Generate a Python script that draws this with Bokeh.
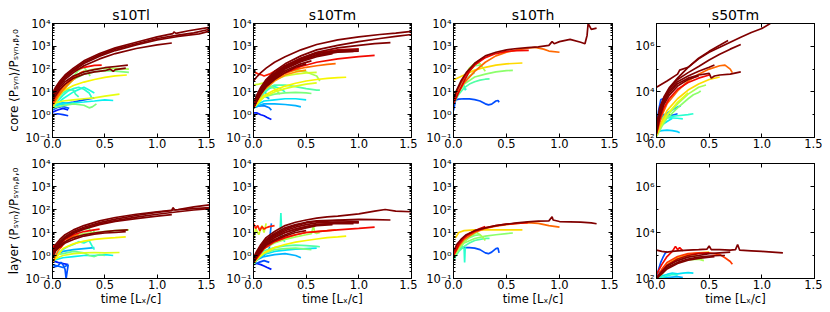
import numpy as np
from bokeh.plotting import figure
from bokeh.layouts import gridplot
from bokeh.models import (Range1d, FixedTicker, LinearAxis, LogAxis,
                          CustomJSTickFormatter, PrintfTickFormatter, ColumnDataSource)
from bokeh.embed import file_html
from bokeh.resources import INLINE

# ---------------- data ----------------
panel_titles = ["s10Tl", "s10Tm", "s10Th", "s50Tm"]
row_labels = ["core ⟨Pₛᵧₙ⟩/Pₛᵧₙ,ᵦ,₀", "layer ⟨Pₛᵧₙ⟩/Pₛᵧₙ,ᵦ,₀"]
x_label = "time [Lₓ/c]"
x_ticks = [0.0, 0.5, 1.0, 1.5]
y_ticks_s10 = [1e-1, 1e0, 1e1, 1e2, 1e3, 1e4]
y_ticks_s50 = [1e2, 1e4, 1e6]
y_range_s10 = [1e-1, 1e4]
y_range_s50 = [1e2, 1e7]

# each series: (colour-map value, time, <P_syn>/P_syn,b,0)
tl_core = [
    (1.0, [0, .03, .07, .12, .2, .3, .45, .6, .8, 1.0, 1.15, 1.16, 1.18, 1.3, 1.5],
          [9, 16, 30, 55, 110, 230, 480, 850, 1500, 2600, 3600, 4300, 3700, 4800, 6800]),
    (1.0, [0, .03, .07, .12, .2, .3, .45, .6, .8, 1.0, 1.2, 1.35, 1.5],
          [7, 13, 25, 48, 95, 200, 420, 750, 1300, 2200, 3100, 3900, 5600]),
    (1.0, [0, .03, .07, .12, .2, .3, .45, .6, .8, 1.0, 1.2, 1.4, 1.5],
          [6, 11, 22, 42, 85, 175, 370, 650, 1150, 1900, 2700, 3500, 4600]),
    (1.0, [0, .03, .07, .12, .2, .3, .45, .6, .8, 1.0, 1.14],
          [5, 10, 19, 36, 70, 140, 280, 480, 800, 1150, 1400]),
    (1.0, [0, .03, .07, .12, .2, .3, .4, .5, .6, .72],
          [5, 9, 16, 28, 50, 75, 95, 115, 130, 150]),
    (1.0, [0, .03, .07, .12, .2, .3, .4, .5, .55, .58, .6, .7],
          [4, 7, 13, 22, 40, 60, 75, 85, 100, 80, 95, 110]),
    (0.9, [0, .03, .07, .12, .2, .3, .4, .47], [6, 12, 24, 45, 85, 120, 145, 150]),
    (0.85, [0, .05, .1, .2, .3], [3, 8, 18, 45, 80]),
    (0.78, [0, .05, .1, .15, .2, .28], [2.5, 6, 12, 22, 40, 75]),
    (0.75, [0, .05, .1, .2, .25], [3, 7, 14, 35, 55]),
    (0.55, [0, .05, .1, .2, .3, .4, .5, .6, .73], [3, 7, 15, 45, 80, 100, 110, 108, 100]),
    (0.5, [0, .05, .1, .2, .3, .4, .5, .6, .73], [2.5, 6, 12, 35, 60, 75, 85, 82, 72]),
    (0.52, [0, .05, .1, .15, .2, .25, .3, .33, .36], [2, 5, 11, 25, 50, 90, 120, 80, 50]),
    (0.58, [0, .05, .1, .2, .25], [2, 5, 12, 40, 60]),
    (0.65, [0, .05, .1, .2, .3, .4, .5, .6, .71], [2.5, 6, 11, 19, 27, 35, 43, 50, 55]),
    (0.63, [0, .05, .1, .2, .3, .4, .5, .64], [3, 3.5, 4, 4.5, 5, 5.5, 6.5, 8]),
    (0.4, [0, .05, .1, .15, .2, .25, .3, .35, .38], [2, 4, 7, 11, 14, 16, 13, 9, 5]),
    (0.42, [0, .05, .1, .15, .2, .22, .25], [2.5, 5, 9, 13, 12, 8, 6]),
    (0.38, [0, .1, .2, .3, .35, .4], [2, 5, 10, 16, 12, 9]),
    (0.36, [0, .1, .2, .3, .4, .5, .58], [2.5, 3, 3.3, 3.6, 4, 4.5, 4.2]),
    (0.2, [0, .1, .2, .3, .4], [2.5, 3, 3.6, 4.5, 5.5]),
    (0.5, [0, .1, .2, .3, .35, .38, .42], [2, 2.5, 3, 2.6, 2.0, 2.2, 3.0]),
    (0.15, [0, .05, .1, .15], [1.3, 1.6, 1.9, 1.6]),
    (0.18, [0, .05, .1, .15], [1.0, 1.1, 1.0, 0.9]),
    (0.22, [0, .05, .1, .16], [1.6, 2.1, 2.3, 1.9]),
    (0.32, [0, .05, .1, .16], [2, 3, 3.4, 3.0]),
]

tm_core = [
    (1.0, [0, .03, .07, .12, .2, .3, .45, .6, .8, 1.0, 1.2, 1.35, 1.5],
          [30, 45, 70, 110, 200, 350, 700, 1200, 1900, 2600, 3300, 3800, 4500]),
    (1.0, [0, .03, .07, .12, .2, .3, .45, .6, .8, 1.0, 1.2, 1.35, 1.5],
          [3, 7, 16, 35, 80, 170, 380, 700, 1100, 1600, 2200, 2700, 3300]),
    (1.0, [0, .03, .07, .12, .2, .3, .45, .6, .8, 1.0, 1.15, 1.3],
          [3, 6, 14, 30, 65, 140, 300, 550, 850, 1100, 1300, 1450]),
    (1.0, [0, .03, .07, .12, .2, .3, .45, .6, .8, 1.0],
          [2.5, 6, 13, 28, 60, 130, 280, 480, 650, 700]),
    (1.0, [0, .03, .07, .12, .2, .3, .45, .6, .8, 1.0],
          [2.5, 5.5, 12, 25, 55, 120, 250, 420, 580, 620]),
    (1.0, [0, .03, .07, .12, .2, .3, .45, .6, .8, .95],
          [2, 5, 11, 23, 50, 110, 230, 400, 550, 600]),
    (1.0, [0, .03, .07, .12, .2, .3, .45, .6, .75], [2, 4.5, 10, 21, 45, 100, 210, 350, 480]),
    (1.0, [0, .03, .07, .12, .2, .3, .45, .55], [2, 4, 9, 19, 40, 85, 170, 230]),
    (1.0, [0, .03, .07, .12, .2, .3, .4, .5], [2, 4, 8, 17, 35, 70, 120, 170]),
    (0.95, [0, .03, .07, .12, .2, .3, .45, .6, .8, 1.0],
           [2.5, 6, 14, 30, 65, 140, 300, 520, 700, 780]),
    (0.9, [0, .03, .07, .12, .2, .3, .45, .6, .8, 1.0, 1.15],
          [2, 4, 9, 18, 38, 70, 130, 200, 280, 350, 400]),
    (0.88, [0, .02, .05, .08, .1, .15, .2, .3, .4], [75, 70, 60, 55, 50, 60, 80, 120, 180]),
    (0.8, [0, .05, .1, .2, .3, .4, .5, .6, .7, .78], [2, 6, 14, 35, 65, 95, 120, 140, 160, 175]),
    (0.75, [0, .05, .1, .2, .3, .4, .5], [2, 5, 12, 30, 55, 75, 90]),
    (0.6, [0, .05, .1, .2, .3, .4, .5, .6], [20, 22, 25, 35, 50, 60, 68, 72]),
    (0.55, [0, .05, .1, .15, .2, .3, .4, .5, .6, .63], [3, 8, 20, 40, 60, 85, 90, 75, 50, 30]),
    (0.65, [0, .05, .1, .2, .3, .4, .5, .6, .7, .8, .88], [2, 4, 7, 12, 18, 24, 30, 35, 39, 42, 44]),
    (0.62, [0, .05, .1, .2, .3, .4, .5, .6], [2, 3.5, 6, 10, 14, 18, 22, 25]),
    (0.45, [0, .05, .1, .15, .2, .3, .4, .5, .6, .63], [2, 5, 10, 16, 20, 20, 17, 14, 12, 12]),
    (0.4, [0, .05, .1, .15, .2, .25, .3], [2, 5, 9, 14, 17, 14, 10]),
    (0.5, [0, .05, .1, .2, .3, .4, .5, .55], [2, 4, 6, 8, 9, 9.5, 9, 8.5]),
    (0.52, [0, .05, .1, .15, .2, .25], [2, 6, 12, 18, 14, 8]),
    (0.35, [0, .05, .1, .2, .3, .4, .5], [2, 3, 4, 4.5, 5, 5, 4.5]),
    (0.3, [0, .05, .1, .2, .3, .4, .45], [2, 2.5, 3, 3, 2.8, 2.5, 2.2]),
    (0.25, [0, .05, .1, .15, .17], [2, 2.4, 2.5, 2.0, 1.6]),
    (0.15, [0, .03, .07, .1, .13, .17], [1.2, 1.2, 1.0, 0.9, 0.75, 0.62]),
    (0.28, [0, .05, .1, .15], [3, 6, 7, 5]),
    (0.32, [0, .05, .1, .15], [4, 8, 10, 7]),
]

th_core = [
    (1.0, [0, .03, .07, .12, .2, .3, .4, .5, .6, .7, .8, .9, .93, .95, 1.0, 1.1, 1.2, 1.24, 1.26,
           1.27, 1.3, 1.35],
          [5, 12, 30, 70, 180, 380, 550, 700, 800, 880, 950, 1100, 1600, 1300, 1600, 2000, 1500,
           1300, 3000, 10000, 5500, 6300]),
    (0.9, [0, .03, .07, .12, .2, .3, .4, .5, .6, .71], [4, 10, 25, 60, 150, 320, 480, 600, 650, 660]),
    (0.92, [0, .05, .1, .15, .2, .25, .3], [3, 10, 30, 80, 160, 250, 330]),
    (0.8, [0, .05, .1, .2, .3, .4, .5, .6, .7, .77, .85, .9, 1.0],
          [4, 10, 25, 80, 200, 380, 550, 700, 820, 900, 750, 620, 550]),
    (0.68, [0, .1, .2, .3, .4, .5, .65], [33, 55, 90, 120, 150, 170, 185]),
    (0.55, [0, .05, .1, .15, .2, .22, .25, .28, .3], [5, 15, 45, 110, 180, 200, 170, 110, 80]),
    (0.5, [0, .05, .1, .15, .2, .25], [4, 12, 35, 80, 140, 150]),
    (0.52, [0, .05, .1, .2, .3, .4, .5, .56], [4, 10, 22, 45, 60, 75, 85, 88]),
    (0.45, [0, .05, .1, .15, .2, .25, .3, .34], [3, 8, 15, 22, 28, 33, 36, 37]),
    (0.48, [0, .05, .1, .15, .2], [3, 10, 25, 50, 70]),
    (0.4, [0, .03, .06, .08, .1, .11, .12], [3, 10, 20, 25, 18, 12, 14]),
    (0.42, [0, .03, .06, .09], [5, 12, 20, 25]),
    (0.2, [0, .02, .05, .1, .15, .2, .25, .3, .33, .36, .4, .42, .43],
          [1.5, 4.5, 4.8, 5, 4.9, 4.6, 4, 3, 2.7, 2.9, 4, 4.2, 3.5]),
]

s50_core = [
    (1.0, [0, .1, .2, .22, .3, .4, .5, .6, .7, .8, .9, 1.0, 1.08],
          [1.6e4, 3e4, 6e4, 9e4, 1.2e5, 2.8e5, 5.5e5, 9e5, 1.5e6, 2.5e6, 4e6, 6e6, 1e7]),
    (1.0, [0, .03, .07, .12, .2, .3, .4, .5, .6, .68],
          [300, 2000, 6000, 1.5e4, 4e4, 1.2e5, 3e5, 6e5, 1.1e6, 1.8e6]),
    (1.0, [0, .03, .07, .12, .2, .3, .4, .5, .6, .7, .8],
          [250, 1500, 5000, 1.3e4, 3.5e4, 7e4, 1.3e5, 2.5e5, 4.5e5, 7.5e5, 1.2e6]),
    (1.0, [0, .03, .07, .12, .2, .3, .4, .5, .55], [200, 1200, 4000, 1.1e4, 2.8e4, 5e4, 8e4, 1.2e5, 1.5e5]),
    (1.0, [0, .03, .07, .12, .2, .3, .4, .5, .52, .55, .6, .7, .8],
          [200, 1000, 3500, 9000, 2.3e4, 4e4, 5.5e4, 6.5e4, 4e4, 5e4, 5.5e4, 6e4, 7.5e4]),
    (1.0, [0, .03, .07, .12, .2, .3, .4], [150, 800, 2800, 7000, 1.8e4, 3.5e4, 5e4]),
    (0.9, [0, .03, .07, .12, .2, .3, .4, .5], [150, 600, 2000, 5000, 1.3e4, 2.6e4, 4e4, 5.5e4]),
    (0.8, [0, .05, .1, .2, .3, .4, .5, .6, .65, .7, .72],
          [150, 900, 3000, 1.1e4, 3e4, 6e4, 1e5, 1.4e5, 1.5e5, 1e5, 7e4]),
    (0.68, [0, .05, .1, .2, .3, .4, .5, .6], [120, 500, 1500, 5000, 1.2e4, 2.2e4, 3.5e4, 4.5e4]),
    (0.62, [0, .05, .1, .2, .3], [150, 400, 1000, 3500, 9000]),
    (0.55, [0, .05, .1, .2, .3, .4, .47], [120, 350, 900, 3000, 8000, 1.6e4, 2e4]),
    (0.52, [0, .05, .1, .2, .3, .35, .4, .42], [110, 300, 700, 2000, 5000, 7500, 9500, 1.1e4]),
    (0.2, [0, .02, .04, .06, .08], [300, 1500, 4500, 5000, 3500]),
    (0.3, [0, .05, .1, .15, .2, .23], [300, 800, 1200, 1600, 2200, 2400]),
    (0.22, [0, .05, .1, .15, .2], [900, 1000, 1000, 950, 1100]),
    (0.4, [0, .05, .1, .2, .3, .35], [500, 700, 800, 900, 1000, 1100]),
    (0.38, [0, .05, .1, .2, .25], [600, 700, 750, 700, 650]),
    (0.33, [0, .05, .1, .15, .2, .22], [180, 200, 210, 200, 180, 160]),
    (0.35, [0, .05, .1, .15], [250, 350, 500, 700]),
]

tl_layer = [
    (1.0, [0, .03, .07, .12, .2, .3, .45, .6, .8, 1.0, 1.2, 1.35, 1.5],
          [1.5, 3, 5, 8, 13, 20, 32, 45, 62, 80, 100, 130, 160]),
    (1.0, [0, .03, .07, .12, .2, .3, .45, .6, .8, 1.0, 1.14, 1.15, 1.17, 1.35, 1.5],
          [1.2, 2.5, 4, 6.5, 11, 17, 27, 38, 55, 75, 90, 120, 95, 110, 120]),
    (1.0, [0, .03, .07, .12, .2, .3, .45, .6, .8, 1.0, 1.2, 1.35, 1.5],
          [1.0, 2, 3.5, 6, 10, 15, 24, 33, 47, 62, 80, 95, 110]),
    (1.0, [0, .03, .07, .12, .2, .3, .45, .6, .8, 1.0, 1.14],
          [1, 2, 3.2, 5.5, 9, 14, 22, 30, 40, 52, 60]),
    (1.0, [0, .03, .07, .12, .2, .3, .4, .5, .6, .72], [1, 1.8, 2.8, 4, 6, 8, 9.5, 11, 12, 13]),
    (1.0, [0, .03, .07, .12, .2, .3, .4, .5, .6, .7], [0.8, 1.6, 2.4, 3.5, 5, 7, 8.5, 9.5, 10, 11]),
    (0.9, [0, .02, .04, .07, .12, .2, .3, .4, .45], [2, 3, 2, 3, 5, 8, 11, 13, 14]),
    (0.88, [0, .02, .05, .08, .1], [3, 2, 2.5, 2.2, 3]),
    (0.55, [0, .05, .1, .2, .3, .4, .5, .6, .73], [1, 2.5, 4.5, 7, 9, 10, 11, 12, 13]),
    (0.5, [0, .05, .1, .2, .3, .35, .38, .4], [1.5, 3, 6, 10, 14, 15, 8, 12]),
    (0.78, [0, .05, .1, .15, .2, .25], [0.5, 1.5, 3, 5, 7, 8]),
    (0.65, [0, .05, .1, .2, .3, .4, .5, .6, .7], [0.5, 1, 2, 3.2, 4.2, 5, 5.6, 6, 6.5]),
    (0.62, [0, .05, .1, .2, .3, .4, .5, .64], [0.6, 0.8, 1.0, 1.2, 1.3, 1.35, 1.3, 1.35]),
    (0.4, [0, .05, .1, .15, .2, .25, .3, .35, .38, .4], [0.8, 1.2, 1.8, 2.5, 3, 4, 3.5, 4.5, 2.5, 1.8]),
    (0.36, [0, .1, .2, .3, .4, .5, .58], [0.6, 0.8, 0.9, 1.0, 1.0, 1.1, 1.0]),
    (0.48, [0, .1, .2, .3, .35, .4, .45, .5], [1, 1.2, 1.5, 1.3, 1.0, 0.9, 1.1, 1.0]),
    (0.2, [0, .05, .08, .1, .12, .13, .15], [0.3, 0.35, 0.5, 0.4, 0.25, 0.1, 0.4]),
    (0.15, [0, .05, .1, .15], [0.6, 0.5, 0.45, 0.4]),
    (0.22, [0, .05, .1, .15], [0.4, 0.35, 0.3, 0.4]),
    (0.3, [0, .05, .1, .2, .3, .4], [1, 1.2, 1.5, 1.8, 2.0, 2.2]),
]

tm_layer = [
    (1.0, [0, .03, .07, .12, .2, .3, .4, .5, .6, .7, .8, 1.0, 1.15, 1.25, 1.35, 1.5],
          [0.8, 1.5, 3, 6, 11, 20, 28, 35, 42, 48, 52, 65, 85, 100, 85, 80]),
    (1.0, [0, .03, .07, .12, .2, .3, .4, .5, .6, .8, 1.0, 1.15, 1.3],
          [0.7, 1.3, 2.5, 5, 9, 16, 22, 28, 32, 35, 37, 36, 35]),
    (1.0, [0, .03, .07, .12, .2, .3, .4, .5, .6, .8, 1.0],
          [0.7, 1.2, 2.3, 4.5, 8, 14, 20, 26, 30, 33, 30]),
    (1.0, [0, .03, .07, .12, .2, .3, .4, .5, .6, .8, 1.0],
          [0.6, 1.1, 2, 4, 7, 12, 17, 22, 26, 28, 26]),
    (1.0, [0, .03, .07, .12, .2, .3, .4, .5, .6, .8, .95],
          [0.6, 1, 1.8, 3.5, 6, 10, 14, 18, 22, 25, 24]),
    (1.0, [0, .03, .07, .12, .2, .3, .4, .5, .6, .75], [0.5, 0.9, 1.6, 3, 5, 8, 12, 16, 20, 22]),
    (1.0, [0, .03, .07, .12, .2, .3, .4, .5], [0.5, 0.9, 1.5, 2.8, 4.5, 7, 10, 12]),
    (0.95, [0, .05, .1, .2, .3, .4, .5, .6, .8, 1.0], [0.6, 1.5, 3, 6, 10, 14, 18, 22, 26, 28]),
    (0.9, [0, .05, .1, .2, .3, .4, .5, .6, .8, 1.0, 1.15], [0.5, 1, 2, 4, 6, 8, 10, 11, 13, 15, 17]),
    (0.88, [0, .02, .04, .06, .08, .1, .12, .15, .2], [25, 15, 20, 12, 18, 14, 16, 18, 20]),
    (0.8, [0, .05, .1, .2, .3, .4, .5, .6, .7, .78], [0.5, 1, 2, 4, 6, 8, 10, 11, 12, 13]),
    (0.65, [0, .05, .1, .2, .3, .4, .5, .6, .7, .8, .88],
           [0.5, 0.8, 1.3, 2.2, 3, 3.8, 4.5, 5.2, 6, 6.5, 7]),
    (0.6, [0, .02, .05, .08, .1, .12], [5, 15, 8, 20, 10, 25]),
    (0.55, [0, .05, .1, .2, .3, .4, .5, .55, .57, .58, .6, .63],
           [0.6, 1.2, 2, 3.5, 5, 6.5, 8, 9, 20, 10, 9, 10]),
    (0.45, [0, .05, .1, .2, .3, .4, .5, .6, .63], [0.5, 1, 1.6, 2.2, 2.6, 2.8, 2.7, 2.5, 2.4]),
    (0.4, [0, .05, .1, .15, .2, .25, .26, .27, .3], [0.5, 1.2, 2, 3, 4, 5, 70, 5, 4]),
    (0.5, [0, .05, .1, .2, .3, .4, .5, .55], [0.4, 0.8, 1.2, 1.8, 2, 2.1, 1.9, 1.8]),
    (0.35, [0, .05, .1, .2, .3, .4, .5, .6], [0.5, 0.8, 1.1, 1.5, 1.7, 1.9, 2.0, 2.1]),
    (0.3, [0, .05, .1, .2, .3, .4, .45], [0.5, 0.7, 0.9, 1.1, 1.2, 1.0, 0.8]),
    (0.25, [0, .05, .1, .15, .16, .17], [0.6, 0.8, 1, 2, 10, 25]),
    (0.15, [0, .03, .07, .1, .13, .17], [0.5, 0.45, 0.4, 0.35, 0.3, 0.25]),
    (0.2, [0, .05, .1, .15], [0.4, 0.5, 0.6, 0.5]),
]

th_layer = [
    (1.0, [0, .03, .07, .12, .2, .3, .4, .5, .6, .7, .8, .9, .93, .94, 1.0, 1.1, 1.2, 1.3, 1.35],
          [1.5, 3, 5, 8, 12, 16, 20, 23, 26, 29, 31, 32, 48, 35, 30, 29, 28, 26, 24]),
    (0.9, [0, .03, .07, .12, .2, .3, .4, .5, .6, .7], [1.2, 2.5, 4.5, 7, 11, 16, 20, 23, 25, 27]),
    (0.92, [0, .05, .1, .15, .2, .25, .3], [1, 3, 6, 9, 12, 15, 18]),
    (0.8, [0, .05, .1, .2, .3, .4, .5, .6, .7, .8, .9, 1.0],
          [1, 2.5, 5, 10, 15, 19, 22, 25, 27, 25, 20, 17]),
    (0.68, [0, .02, .05, .1, .2, .3, .4, .5, .65], [7, 6, 10, 12, 13, 13, 13, 13, 13]),
    (0.55, [0, .05, .1, .15, .2, .22, .25, .28, .3], [0.8, 2, 4, 6.5, 9, 10, 8, 6, 4.5]),
    (0.5, [0, .05, .1, .15, .2, .25], [0.8, 2, 4, 6, 7.5, 8]),
    (0.52, [0, .05, .1, .2, .3, .4, .5, .56], [0.8, 2, 3.5, 5.5, 7, 8, 9, 9.5]),
    (0.45, [0, .05, .1, .15, .2, .25, .3, .34], [0.7, 1.5, 2.5, 3.5, 4.5, 5, 5.5, 5.5]),
    (0.4, [0, .03, .06, .08, .1, .105, .11, .12], [0.6, 1.2, 2, 2.5, 2, 0.5, 2, 2.2]),
    (0.42, [0, .03, .06, .09], [0.8, 1.5, 2.2, 2.5]),
    (0.2, [0, .02, .05, .1, .15, .2, .25, .3, .33, .36, .4, .42, .43],
          [0.6, 1.8, 2, 2.2, 2.2, 2.1, 1.8, 1.3, 1.2, 1.4, 2.0, 2.1, 1.3]),
]

s50_layer = [
    (1.0, [0, .05, .1, .15, .2, .3, .4, .48, .5, .52, .6, .7, .75, .77, .79, .9, 1.0, 1.1, 1.2],
          [1700, 1500, 1400, 1500, 1600, 1700, 1800, 1900, 2600, 1800, 1800, 1700, 1800, 3000,
           1700, 1600, 1500, 1400, 1300]),
    (1.0, [0, .05, .1, .2, .3, .4, .5, .6, .7], [100, 200, 350, 600, 850, 1000, 1200, 1300, 1400]),
    (1.0, [0, .05, .1, .2, .3, .4, .5, .6, .65], [100, 180, 300, 500, 700, 850, 950, 1000, 1000]),
    (1.0, [0, .05, .1, .2, .3, .4, .5, .55], [100, 160, 260, 450, 620, 750, 850, 900]),
    (0.95, [0, .05, .1, .2, .3, .4, .5], [110, 200, 380, 700, 1000, 1200, 1300]),
    (0.9, [0, .05, .1, .15, .18, .2, .22, .25], [150, 400, 900, 1500, 2500, 1800, 2200, 1600]),
    (0.85, [0, .05, .1, .2, .3, .4, .5, .6, .65, .7, .72],
           [100, 250, 500, 900, 1200, 1300, 1300, 1100, 800, 550, 420]),
    (0.7, [0, .05, .1, .2, .3, .4, .5], [100, 200, 400, 800, 1100, 1300, 1400]),
    (0.6, [0, .05, .1, .2, .3, .4], [100, 180, 350, 650, 900, 1000]),
    (0.55, [0, .05, .1, .2, .3, .4, .45], [100, 150, 280, 480, 650, 700, 600]),
    (0.2, [0, .02, .04, .06, .08, .1], [100, 250, 500, 800, 1200, 1500]),
    (0.25, [0, .02, .04, .06], [150, 200, 180, 220]),
    (0.35, [0, .05, .1, .15, .2, .25, .3, .35], [110, 130, 150, 170, 160, 170, 180, 170]),
    (0.4, [0, .05, .1, .15, .2], [100, 110, 130, 150, 140]),
    (0.3, [0, .05, .1, .15, .2, .25], [100, 105, 110, 115, 120, 110]),
]

panels = [[tl_core, tm_core, th_core, s50_core],
          [tl_layer, tm_layer, th_layer, s50_layer]]

# ---------------- style / layout ----------------
FONT = "DejaVu Sans"
FW = [157, 158, 159, 158]
FH = [114, 115]
BL = [52, 38, 36, 38]
BR = [6, 6, 6, 8]
BT = [23, 8]
BB = [18, 30]


def jet(c):
    r = np.interp(c, [0, .35, .66, .89, 1], [0, 0, 1, 1, .5])
    g = np.interp(c, [0, .125, .375, .64, .91, 1], [0, 0, 1, 1, 0, 0])
    b = np.interp(c, [0, .11, .34, .65, 1], [.5, 1, 1, 0, 0])
    return "#%02x%02x%02x" % (int(round(r * 255)), int(round(g * 255)), int(round(b * 255)))


sup_fmt = CustomJSTickFormatter(code="""
const m = {'-':'\u207b','0':'\u2070','1':'\u00b9','2':'\u00b2','3':'\u00b3','4':'\u2074',
           '5':'\u2075','6':'\u2076','7':'\u2077','8':'\u2078','9':'\u2079'};
const e = Math.round(Math.log10(tick));
return '10' + String(e).split('').map(c => m[c]).join('');
""")
blank_fmt = CustomJSTickFormatter(code="return '';")


def style_axis(ax, show_labels, label_size="12px"):
    ax.major_tick_in = 4
    ax.major_tick_out = 0
    ax.minor_tick_in = 2
    ax.minor_tick_out = 0
    ax.axis_line_color = "black"
    ax.major_tick_line_color = "black"
    ax.minor_tick_line_color = "black"
    ax.major_label_text_font = FONT
    ax.major_label_text_font_size = "11.5px"
    ax.major_label_text_color = "black"
    ax.major_label_standoff = 2 if show_labels else 0
    ax.axis_label_text_font = FONT
    ax.axis_label_text_font_size = label_size
    ax.axis_label_text_font_style = "normal"
    ax.axis_label_text_color = "black"
    ax.axis_label_standoff = 1


def make_panel(series, row, col):
    s50 = col == 3
    yr = y_range_s50 if s50 else y_range_s10
    yt = y_ticks_s50 if s50 else y_ticks_s10
    if s50:
        yminor = [1e3, 1e5, 1e7]
    else:
        yminor = [k * d for d in yt[:-1] for k in range(2, 10)]
    p = figure(x_range=Range1d(0, 1.5), y_range=Range1d(*yr), y_axis_type="log",
               frame_width=FW[col], frame_height=FH[row],
               min_border_left=BL[col], min_border_right=BR[col],
               min_border_top=BT[row], min_border_bottom=BB[row],
               output_backend="svg", toolbar_location=None, tools="",
               title=panel_titles[col] if row == 0 else None)
    p.grid.visible = False
    p.outline_line_color = "black"
    p.outline_line_width = 1
    p.background_fill_color = "white"
    p.border_fill_color = "white"
    if row == 0:
        p.title.align = "center"
        p.title.text_font = FONT
        p.title.text_font_size = "14px"
        p.title.text_font_style = "normal"
        p.title.text_color = "black"
        p.title.standoff = 2
        p.title.offset = 0

    xt = FixedTicker(ticks=x_ticks, minor_ticks=[])
    ytk = FixedTicker(ticks=yt, minor_ticks=yminor)

    p.xaxis.ticker = xt
    p.xaxis.formatter = PrintfTickFormatter(format="%.1f")
    p.yaxis.ticker = ytk
    p.yaxis.formatter = sup_fmt
    style_axis(p.xaxis[0], True, "11.5px")
    style_axis(p.yaxis[0], True, "12px")
    p.xaxis.major_label_standoff = 1
    p.xaxis.axis_label_standoff = 0
    if row == 1:
        p.xaxis.axis_label = x_label
    if col == 0:
        p.yaxis.axis_label = row_labels[row]

    top = LinearAxis(ticker=xt, formatter=blank_fmt)
    right = LogAxis(ticker=ytk, formatter=blank_fmt)
    style_axis(top, False)
    style_axis(right, False)
    p.add_layout(top, "above")
    p.add_layout(right, "right")

    ordered = sorted(series, key=lambda s: s[0])
    src = ColumnDataSource(dict(
        xs=[list(s[1]) for s in ordered],
        ys=[list(s[2]) for s in ordered],
        color=[jet(s[0]) for s in ordered]))
    p.multi_line(xs="xs", ys="ys", line_color="color", line_width=1.7, source=src)
    return p


figs = [[make_panel(panels[r][c], r, c) for c in range(4)] for r in range(2)]
grid = gridplot(figs, toolbar_location=None)

open("out.html", "w").write(file_html(grid, INLINE))
